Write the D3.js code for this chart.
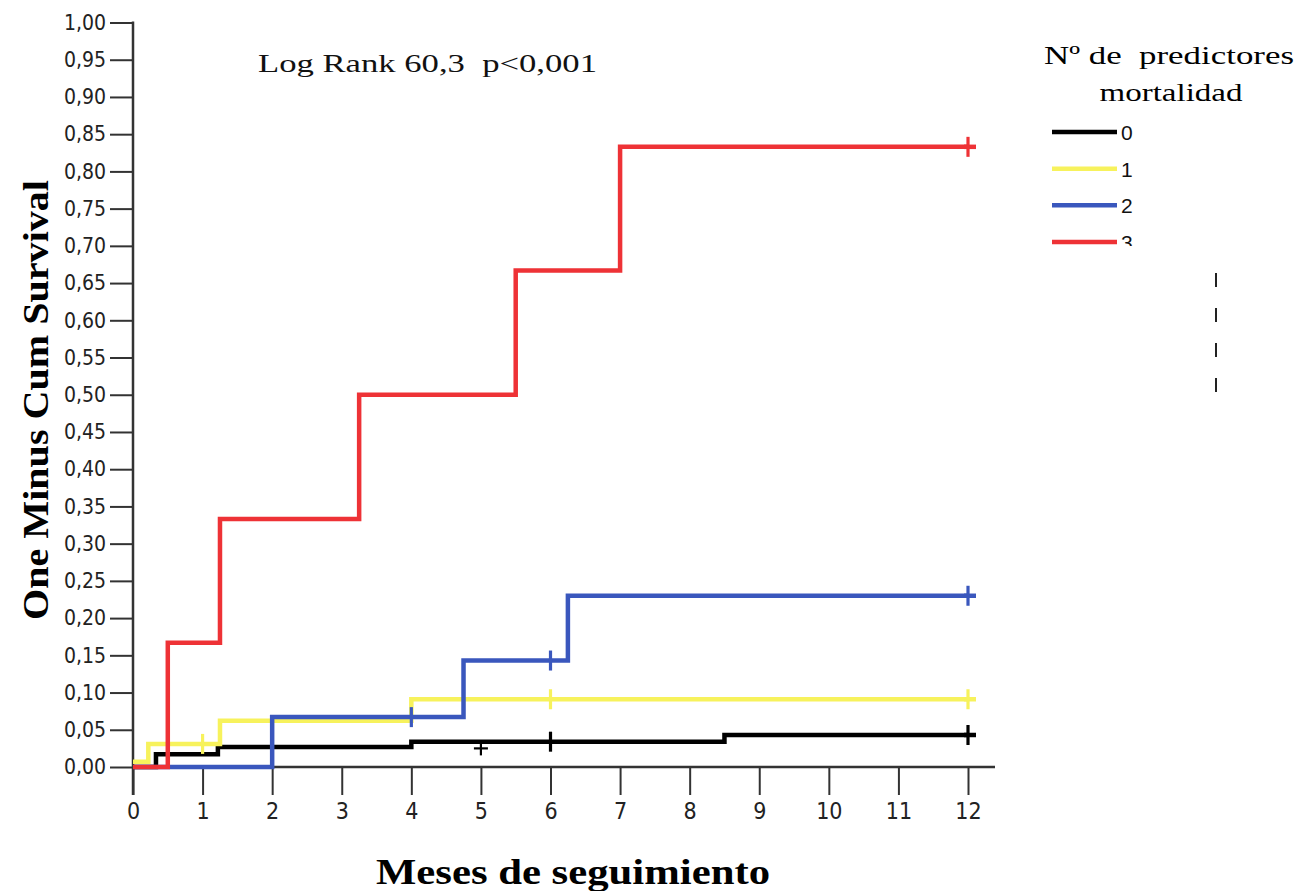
<!DOCTYPE html>
<html>
<head>
<meta charset="utf-8">
<script src="https://cdn.jsdelivr.net/npm/d3@7"></script>
<style>
  body { margin: 0; background: #fff; }
  svg { display: block; }
</style>
</head>
<body>
<div id="chart"></div>
<script>
// group labels (n of mortality predictors)
const groups = ['0', '1', '2', '3'];
const groupColors = ['#000000', '#f7f25c', '#3a57bd', '#ee3236'];

// step times (months) and cumulative incidence (1 - survival)
const times0 = [0, 0.33, 1.22, 4.0, 8.5, 12];
const values0 = [0, 0.017, 0.027, 0.034, 0.043, 0.043];
const times1 = [0, 0.22, 1.25, 4.0, 12];
const values1 = [0.007, 0.031, 0.062, 0.091, 0.091];
const times2 = [0, 2.0, 4.75, 6.25, 12];
const values2 = [0, 0.067, 0.143, 0.23, 0.23];
const times3 = [0, 0.5, 1.25, 3.25, 5.5, 7.0, 12];
const values3 = [0, 0.167, 0.333, 0.5, 0.667, 0.833, 0.833];

// censored observations
const censor0 = [6, 12];
const censor1 = [1, 6, 12];
const censor2 = [4, 6, 12];
const censor3 = [12];
const looseCensorTime = [5];
const looseCensorValue = [0.025];

const xTicks = d3.range(0, 13, 1);
const yTicks = d3.range(0, 1.0001, 0.05);

const width = 1301, height = 891;

const svg = d3.select('#chart')
  .append('svg')
  .attr('width', width)
  .attr('height', height);

const x = d3.scaleLinear().domain([0, 12]).range([133, 968]);
const y = d3.scaleLinear().domain([0, 1]).range([767, 22.5]);

const tickFont = '"DejaVu Sans Condensed", "DejaVu Sans", sans-serif';
const serif = '"Liberation Serif", "DejaVu Serif", serif';

// y axis
const yAxis = svg.append('g')
  .attr('transform', 'translate(' + x(0) + ',0)')
  .call(d3.axisLeft(y)
    .tickValues(yTicks)
    .tickSize(23)
    .tickSizeOuter(0)
    .tickPadding(4)
    .tickFormat(d => d3.format('.2f')(d).replace('.', ',')));
yAxis.select('.domain').remove();
yAxis.selectAll('line').attr('stroke', '#333').attr('stroke-width', 2);
yAxis.selectAll('text')
  .attr('font-family', tickFont)
  .attr('font-size', 21)
  .attr('fill', '#222');
yAxis.append('line')
  .attr('x1', 0).attr('x2', 0)
  .attr('y1', y(1) - 1).attr('y2', y(0) + 28)
  .attr('stroke', '#333').attr('stroke-width', 2.5);

// x axis
const xAxis = svg.append('g')
  .attr('transform', 'translate(0,' + y(0) + ')')
  .call(d3.axisBottom(x)
    .tickValues(xTicks)
    .tickSize(28)
    .tickSizeOuter(0)
    .tickPadding(8)
    .tickFormat(d3.format('d')));
xAxis.select('.domain').remove();
xAxis.selectAll('line').attr('stroke', '#333').attr('stroke-width', 2);
xAxis.selectAll('text')
  .attr('font-family', tickFont)
  .attr('font-size', 23)
  .attr('fill', '#222');
xAxis.append('line')
  .attr('x1', x(0)).attr('x2', x(12) + 27)
  .attr('y1', 0).attr('y2', 0)
  .attr('stroke', '#333').attr('stroke-width', 2.5);

// curves
const series = [
  { times: times0, values: values0, censor: censor0 },
  { times: times1, values: values1, censor: censor1 },
  { times: times2, values: values2, censor: censor2 },
  { times: times3, values: values3, censor: censor3 }
];

const stepLine = d3.line()
  .x(d => x(d[0]))
  .y(d => y(d[1]))
  .curve(d3.curveStepAfter);

const valueAt = (s, t) => {
  let v = s.values[0];
  s.times.forEach((tt, i) => { if (tt <= t) v = s.values[i]; });
  return v;
};

const curves = svg.append('g');
series.forEach((s, i) => {
  const pts = s.times.map((t, j) => [t, s.values[j]]);
  curves.append('path')
    .attr('d', stepLine(pts))
    .attr('fill', 'none')
    .attr('stroke', groupColors[i])
    .attr('stroke-width', 4.5)
    .attr('stroke-linejoin', 'miter');

  const marks = curves.append('g')
    .selectAll('g')
    .data(s.censor)
    .join('g')
      .attr('transform', t => 'translate(' + x(t) + ',' + y(valueAt(s, t)) + ')')
      .attr('stroke', groupColors[i])
      .attr('stroke-width', 3.2);
  marks.append('line').attr('x1', 0).attr('x2', 0).attr('y1', -10).attr('y2', 10);
  marks.filter(t => t === 12).append('line')
    .attr('x1', -4).attr('x2', 8).attr('y1', 0).attr('y2', 0)
    .attr('stroke-width', 4.5);
});

// detached censor cross on group 0
const loose = curves.append('g')
  .selectAll('g')
  .data(looseCensorTime.map((t, i) => [t, looseCensorValue[i]]))
  .join('g')
    .attr('transform', d => 'translate(' + x(d[0]) + ',' + y(d[1]) + ')')
    .attr('stroke', groupColors[0])
    .attr('stroke-width', 2.2);
loose.append('line').attr('x1', 0).attr('x2', 0).attr('y1', -7).attr('y2', 7);
loose.append('line').attr('x1', -7).attr('x2', 7).attr('y1', 0).attr('y2', 0);

// annotation
svg.append('text')
  .attr('x', 258).attr('y', 72)
  .attr('font-family', serif)
  .attr('font-size', 25)
  .attr('textLength', 339)
  .attr('lengthAdjust', 'spacingAndGlyphs')
  .attr('fill', '#111')
  .style('white-space', 'pre')
  .text('Log Rank 60,3  p<0,001');

// axis titles
svg.append('text')
  .attr('transform', 'translate(48,400) rotate(-90)')
  .attr('text-anchor', 'middle')
  .attr('font-family', serif)
  .attr('font-weight', 'bold')
  .attr('font-size', 36)
  .attr('textLength', 440)
  .attr('lengthAdjust', 'spacingAndGlyphs')
  .text('One Minus Cum Survival');

svg.append('text')
  .attr('x', 573).attr('y', 884)
  .attr('text-anchor', 'middle')
  .attr('font-family', serif)
  .attr('font-weight', 'bold')
  .attr('font-size', 36)
  .attr('textLength', 394)
  .attr('lengthAdjust', 'spacingAndGlyphs')
  .text('Meses de seguimiento');

// legend (the source image cuts it off below the last entry)
const defs = svg.append('defs');
defs.append('clipPath').attr('id', 'legclip')
  .append('rect').attr('x', 1030).attr('y', 20).attr('width', 271).attr('height', 226);

const legend = svg.append('g').attr('clip-path', 'url(#legclip)');
legend.append('text')
  .attr('x', 1169).attr('y', 64)
  .attr('text-anchor', 'middle')
  .attr('font-family', serif)
  .attr('font-size', 26)
  .attr('textLength', 250)
  .attr('lengthAdjust', 'spacingAndGlyphs')
  .style('white-space', 'pre')
  .text('Nº de  predictores');
legend.append('text')
  .attr('x', 1171).attr('y', 101)
  .attr('text-anchor', 'middle')
  .attr('font-family', serif)
  .attr('font-size', 26)
  .attr('textLength', 143)
  .attr('lengthAdjust', 'spacingAndGlyphs')
  .text('mortalidad');

const legY = d3.scalePoint().domain(groups).range([132, 242]);
const items = legend.selectAll('g.item')
  .data(groups)
  .join('g')
    .attr('class', 'item')
    .attr('transform', d => 'translate(0,' + legY(d) + ')');
items.append('line')
  .attr('x1', 1052).attr('x2', 1117)
  .attr('stroke', (d, i) => groupColors[i])
  .attr('stroke-width', 4.5);
items.append('text')
  .attr('x', 1121).attr('y', 8)
  .attr('font-family', '"Liberation Sans", Arial, sans-serif')
  .attr('font-size', 21)
  .attr('fill', '#111')
  .text(d => d);

// dashed marker right of legend
svg.append('line')
  .attr('x1', 1216).attr('x2', 1216)
  .attr('y1', 273).attr('y2', 393)
  .attr('stroke', '#222')
  .attr('stroke-width', 2)
  .attr('stroke-dasharray', '14,21');
</script>
</body>
</html>
